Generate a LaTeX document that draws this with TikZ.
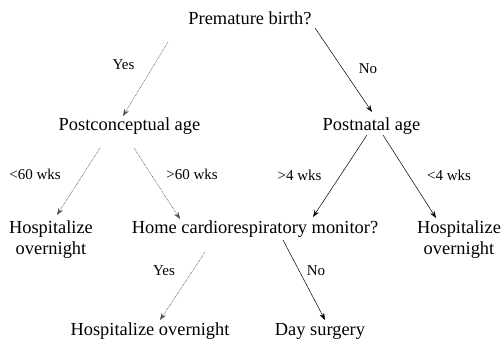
\documentclass[tikz,border=0pt]{standalone}
\usepackage{fontspec}
\setmainfont{Liberation Serif}
\usetikzlibrary{arrows.meta}
\begin{document}
\begin{tikzpicture}[x=1pt,y=-1pt,
  main/.style={font=\fontsize{18.4}{21}\selectfont, inner sep=0pt, align=center},
  lab/.style={font=\fontsize{15}{17}\selectfont, inner sep=0pt, anchor=base},
  solidarr/.style={-{Stealth[length=7pt,width=5pt]}, line width=0.5pt},
  dotarr/.style={-{Stealth[length=7pt,width=5pt]}, line width=0.5pt, dash pattern=on 0.8pt off 0.8pt, draw=black!70}]
\useasboundingbox (0,0) rectangle (502,341);
\node[main, anchor=base] (root) at (250,24) {Premature birth?};
\node[main, anchor=base] (pca) at (129.5,130) {Postconceptual age};
\node[main, anchor=base] (pna) at (371.5,130) {Postnatal age};
\node[main] (hl) at (51,240) {Hospitalize\\overnight};
\node[main, anchor=base] (home) at (255,233) {Home cardiorespiratory monitor?};
\node[main] (hr) at (459,240) {Hospitalize\\overnight};
\node[main, anchor=base] (hb) at (150,335) {Hospitalize overnight};
\node[main, anchor=base] (day) at (320,335) {Day surgery};
\node[lab] (l1) at (123.5,69) {Yes};
\node[lab] (l2) at (368,73) {No};
\node[lab] (l3) at (35,179) {<60 wks};
\node[lab] (l4) at (192,179) {>60 wks};
\node[lab] (l5) at (299.5,180) {>4 wks};
\node[lab] (l6) at (449,180) {<4 wks};
\node[lab] (l7) at (164,275) {Yes};
\node[lab] (l8) at (316,275) {No};
\coordinate (s1) at (168,42); \coordinate (e1) at (123,116);
\coordinate (s2) at (315,28); \coordinate (e2) at (372,112);
\coordinate (s3) at (100,148); \coordinate (e3) at (57,215);
\coordinate (s4) at (134,148); \coordinate (e4) at (180,219);
\coordinate (s5) at (367,135); \coordinate (e5) at (313,217);
\coordinate (s6) at (383,135); \coordinate (e6) at (436,218);
\coordinate (s7) at (205,252); \coordinate (e7) at (160,320);
\coordinate (s8) at (283,240); \coordinate (e8) at (325,320);
\draw[dotarr] (s1) -- (e1);
\draw[solidarr] (s2) -- (e2);
\draw[dotarr] (s3) -- (e3);
\draw[dotarr] (s4) -- (e4);
\draw[solidarr] (s5) -- (e5);
\draw[solidarr] (s6) -- (e6);
\draw[dotarr] (s7) -- (e7);
\draw[solidarr] (s8) -- (e8);
\end{tikzpicture}
\end{document}
